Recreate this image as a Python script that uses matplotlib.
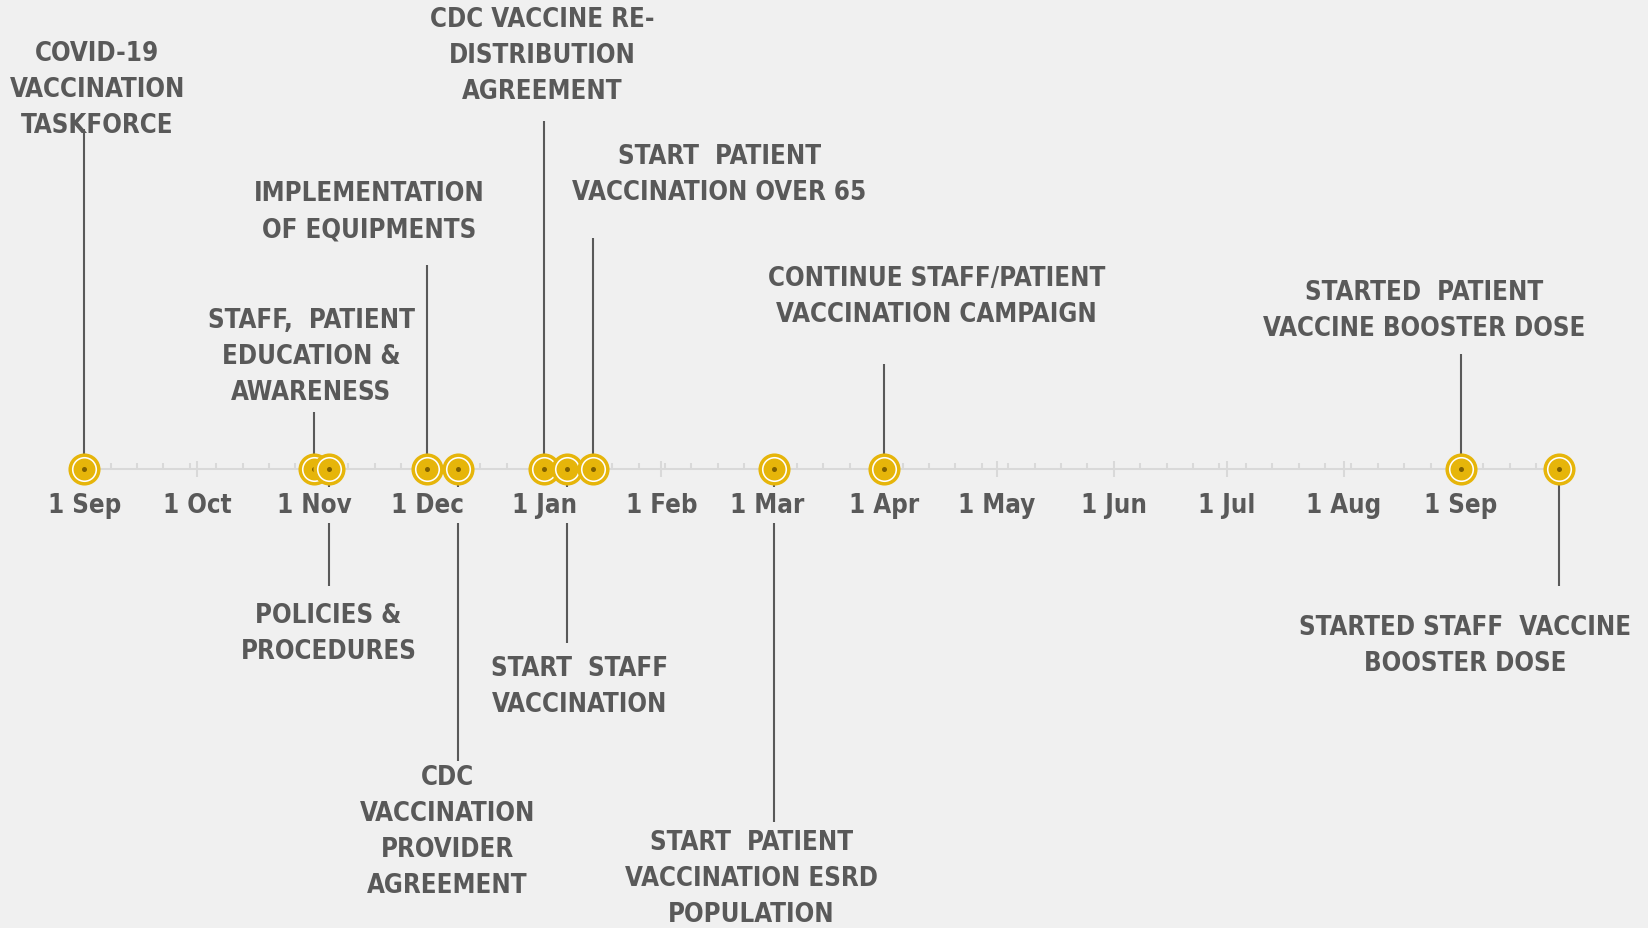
import pandas as pd
import matplotlib.pyplot as plt
import matplotlib.dates as mdates

# Event data
event_dates = ['2020-09-01', '2020-11-01', '2020-11-05', '2020-12-01', '2020-12-09',
               '2021-01-01', '2021-01-07', '2021-01-14', '2021-03-03', '2021-04-01',
               '2021-09-01', '2021-09-27']
event_heights = [340, 57, -117, 204, -292, 348, -174, 231, -353, 105, 115, -117]
event_labels = [
    'COVID-19\nVACCINATION\nTASKFORCE',
    'STAFF,  PATIENT\nEDUCATION &\nAWARENESS',
    'POLICIES &\nPROCEDURES',
    'IMPLEMENTATION\nOF EQUIPMENTS',
    'CDC\nVACCINATION\nPROVIDER\nAGREEMENT',
    'CDC VACCINE RE-\nDISTRIBUTION\nAGREEMENT',
    'START  STAFF\nVACCINATION',
    'START  PATIENT\nVACCINATION OVER 65',
    'START  PATIENT\nVACCINATION ESRD\nPOPULATION',
    'CONTINUE STAFF/PATIENT\nVACCINATION CAMPAIGN',
    'STARTED  PATIENT\nVACCINE BOOSTER DOSE',
    'STARTED STAFF  VACCINE\nBOOSTER DOSE',
]
# label centre offsets from the stem tip (pixels)
label_dx = [13, -3, -1, -58, -10, -2, 13, 126, -23, 53, -37, -94]
label_dy = [40, 56, -47, 54, -70, 66, -43, 64, -56, 68, 44, -59]

axis_start = '2020-09-01'
axis_end = '2021-09-27'

bg = '#f0f0f0'
text_col = '#595959'
gold = '#e6b50a'

dates = pd.to_datetime(event_dates)
t0 = pd.Timestamp(axis_start)
px_per_day = 3.771

fig = plt.figure(figsize=(16.49, 9.29), dpi=100, facecolor=bg)
ax = fig.add_axes([0, 0, 1, 1], facecolor=bg)

font = dict(family='DejaVu Sans', stretch='condensed', weight='bold', color=text_col)

# Stems
ax.vlines(dates, 0, event_heights, color=text_col, linewidth=1.5, zorder=2)

# Markers: ring, white gap, gold fill, dark centre dot (each event stacked over the previous)
for i, d in enumerate(dates):
    z = 4 + i * 0.1
    ax.plot(d, 0, 'o', ms=20.6, mfc='white', mec=gold, mew=2.5, zorder=z)
    ax.plot(d, 0, 'o', ms=15.8, mfc=gold, mec='none', zorder=z + 0.03)
    ax.plot(d, 0, 'o', ms=3.6, mfc='#7f6000', mec='none', zorder=z + 0.06)

# Labels
for d, h, lab, dx, dy in zip(dates, event_heights, event_labels, label_dx, label_dy):
    ax.annotate(lab, xy=(d, h), xytext=(dx, dy), textcoords='offset pixels',
                ha='center', va='center', fontsize=18.5, linespacing=1.5, **font)

# Axis line as the bottom spine through zero
ax.set_ylim(-459, 470)
left = t0 - pd.Timedelta(days=84.3 / px_per_day)
right = left + pd.Timedelta(days=1649 / px_per_day)
ax.set_xlim(left, right)

for s in ['top', 'left', 'right']:
    ax.spines[s].set_visible(False)
ax.spines['bottom'].set_position(('data', 0))
ax.spines['bottom'].set_bounds(mdates.date2num(t0), mdates.date2num(pd.Timestamp(axis_end)))
ax.spines['bottom'].set_color('#d9d9d9')
ax.spines['bottom'].set_linewidth(1.5)
ax.spines['bottom'].set_zorder(1)

major = pd.date_range(axis_start, '2021-09-01', freq='MS')
minor = pd.date_range(axis_start, axis_end, freq='7D')
ax.set_xticks(major)
ax.set_xticks(minor, minor=True)
ax.set_xticklabels([])
ax.tick_params(axis='x', which='major', direction='inout', length=11.5, width=1.5,
               color='#d9d9d9')
ax.tick_params(axis='x', which='minor', direction='in', length=4.3, width=1.5, color='#d9d9d9')
ax.set_yticks([])

# Month labels sit on a background box, covering the stems behind them
for d in major:
    ax.text(d, -36, f'{d.day} {d.strftime("%b")}', ha='center', va='center',
            fontsize=18.5, zorder=3,
            bbox=dict(boxstyle='square,pad=0.2', fc=bg, ec='none'), **font)

fig.savefig('out.png', dpi=100, facecolor=bg)
